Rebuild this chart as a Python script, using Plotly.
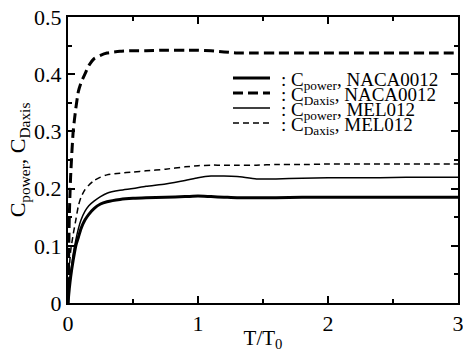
import plotly.graph_objects as go

t = [0, 0.01, 0.02, 0.04, 0.06, 0.08, 0.1, 0.13, 0.16, 0.2, 0.25, 0.3, 0.4, 0.5, 0.6,
     0.75, 0.9, 1.0, 1.1, 1.2, 1.3, 1.45, 1.6, 1.8, 2.0, 2.2, 2.4, 2.6, 2.8, 3.0]

cd_naca = [0, 0.15, 0.22, 0.30, 0.34, 0.37, 0.385, 0.40, 0.415, 0.427, 0.433, 0.437, 0.44, 0.441, 0.441,
           0.442, 0.442, 0.442, 0.441, 0.439, 0.437, 0.437, 0.437, 0.437, 0.437, 0.437, 0.437, 0.437, 0.437, 0.437]
cp_naca = [0, 0.025, 0.045, 0.075, 0.1, 0.115, 0.13, 0.145, 0.155, 0.165, 0.173, 0.177, 0.181, 0.183, 0.184,
           0.185, 0.186, 0.187, 0.186, 0.185, 0.184, 0.184, 0.184, 0.185, 0.185, 0.185, 0.185, 0.185, 0.185, 0.185]
cp_mel = [0, 0.03, 0.05, 0.085, 0.11, 0.13, 0.145, 0.16, 0.17, 0.178, 0.186, 0.192, 0.197, 0.2, 0.204,
          0.208, 0.214, 0.219, 0.222, 0.222, 0.221, 0.217, 0.217, 0.218, 0.219, 0.219, 0.219, 0.22, 0.22, 0.22]
cd_mel = [0, 0.06, 0.09, 0.12, 0.145, 0.17, 0.185, 0.198, 0.206, 0.214, 0.22, 0.224, 0.227, 0.229, 0.231,
          0.234, 0.238, 0.24, 0.241, 0.241, 0.241, 0.241, 0.242, 0.242, 0.243, 0.243, 0.243, 0.243, 0.243, 0.243]

legend_labels = [": C<sub>power</sub>, NACA0012", ": C<sub>Daxis</sub>, NACA0012",
                 ": C<sub>power</sub>, MEL012", ": C<sub>Daxis</sub>, MEL012"]

series = [cp_naca, cd_naca, cp_mel, cd_mel]
widths = [3, 3, 1.5, 1.5]
dashes = ["solid", "10px,5px", "solid", "6px,4px"]

fig = go.Figure()
for ys, w, d, name in zip(series, widths, dashes, legend_labels):
    fig.add_trace(go.Scatter(x=t, y=ys, mode="lines", line=dict(color="black", width=w, dash=d,
                                                               shape="spline", smoothing=0.6),
                             name=name, showlegend=False))

L, R, T, B = 68, 5, 17, 49
W, H = 463, 352
pw, ph = W - L - R, H - T - B
def px(x):
    return (x - L) / pw
def py(y):
    return (H - B - y) / ph

rows = [78, 93, 108, 123]
for lab, w, d, r in zip(legend_labels, widths, dashes, rows):
    fig.add_shape(type="line", xref="paper", yref="paper", x0=px(233), x1=px(270), y0=py(r), y1=py(r),
                  line=dict(color="black", width=w, dash=d))
    fig.add_annotation(xref="paper", yref="paper", x=px(279), y=py(r + 3), xanchor="left", yanchor="middle",
                       text=lab, showarrow=False, font=dict(size=19, color="black", family="Liberation Serif"))

axis_common = dict(showline=True, linecolor="black", linewidth=2, mirror="ticks", ticks="inside",
                   tickcolor="black", tickwidth=1.5, ticklen=7, showgrid=False, zeroline=False,
                   automargin=False, ticklabeloverflow="allow",
                   tickfont=dict(size=22, family="Liberation Serif", color="black"))

fig.update_xaxes(range=[0, 3], tickvals=[0, 1, 2, 3], ticktext=["0", "1", "2", "3"],
                 minor=dict(tickvals=[0.5, 1.5, 2.5], ticks="inside", ticklen=4, tickcolor="black"),
                 title=dict(text="T/T<sub>0</sub>", font=dict(size=21, family="Liberation Serif", color="black"),
                            standoff=0),
                 **axis_common)
fig.update_yaxes(range=[0, 0.5], tickvals=[0, 0.1, 0.2, 0.3, 0.4, 0.5],
                 ticktext=["0", "0.1", "0.2", "0.3", "0.4", "0.5"],
                 minor=dict(tickvals=[0.05, 0.15, 0.25, 0.35, 0.45], ticks="inside", ticklen=4, tickcolor="black"),
                 title=dict(text="C<sub>power</sub>, C<sub>Daxis</sub>",
                            font=dict(size=22, family="Liberation Serif", color="black"), standoff=2),
                 **axis_common)

fig.update_layout(width=W, height=H, margin=dict(l=L, r=R, t=T, b=B),
                  plot_bgcolor="white", paper_bgcolor="white",
                  font=dict(family="Liberation Serif", color="black"))

fig.write_html("out.html", config={"displayModeBar": False},
               post_script="document.body.style.margin='0';")
